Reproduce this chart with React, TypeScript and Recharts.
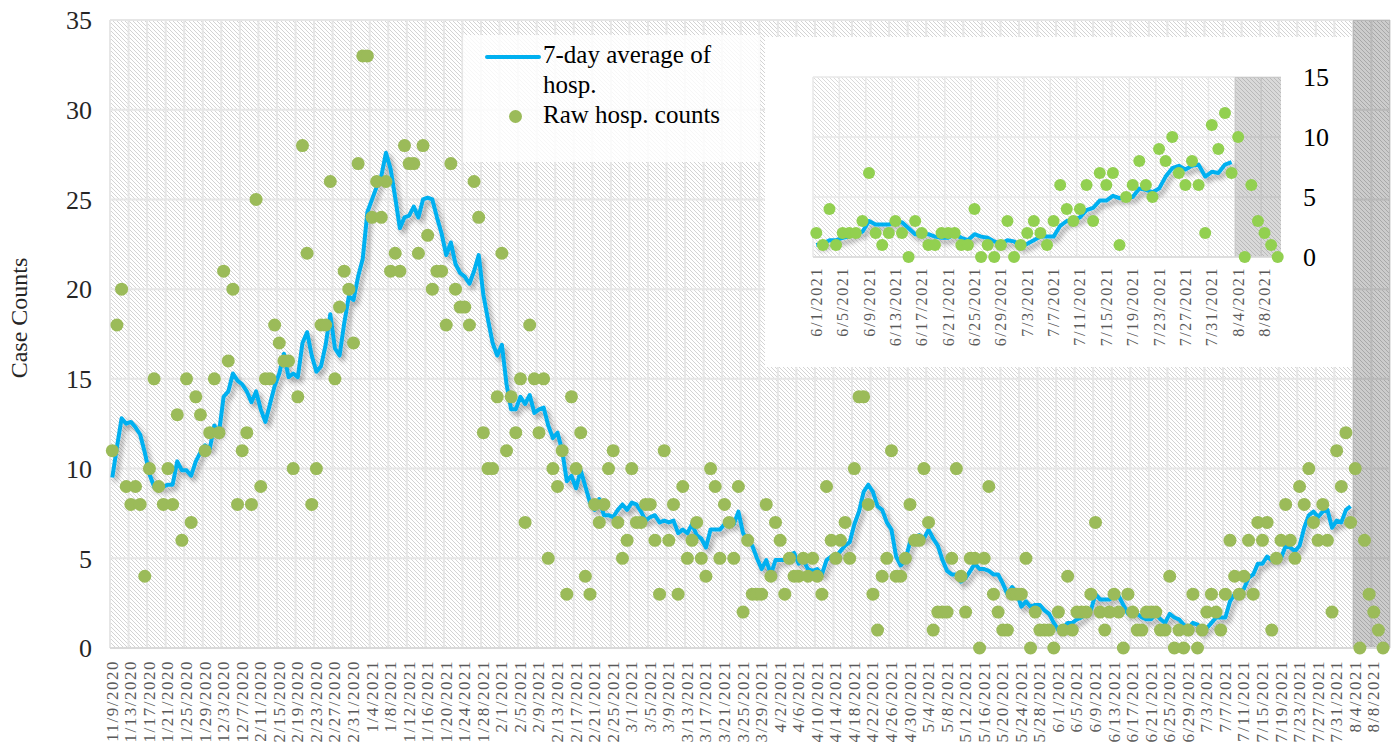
import React from 'react';
import {
  CartesianGrid,
  ComposedChart,
  Legend,
  Line,
  ReferenceArea,
  Scatter,
  XAxis,
  YAxis,
} from 'recharts';

const FONT = '"Liberation Serif", "Times New Roman", serif';
const LINE_BLUE = '#00B0F0';
const DOT_GREEN = '#9BBB59';
const INSET_GREEN = '#92D050';

// raw daily hospitalisation counts, 11/9/2020 .. 8/10/2021
const rawCounts = [
  11, 18, 20, 9, 8, 9, 8, 4, 10, 15,
  9, 8, 10, 8, 13, 6, 15, 7, 14, 13,
  11, 12, 15, 12, 21, 16, 20, 8, 11, 12,
  8, 25, 9, 15, 15, 18, 17, 16, 16, 10,
  14, 28, 22, 8, 10, 18, 18, 26, 15, 19,
  21, 20, 17, 27, 33, 33, 24, 26, 24, 26,
  21, 22, 21, 28, 27, 27, 22, 28, 23, 20,
  21, 21, 18, 27, 20, 19, 19, 18, 26, 24,
  12, 10, 10, 14, 22, 11, 14, 12, 15, 7,
  18, 15, 12, 15, 5, 10, 9, 11, 3, 14,
  10, 12, 4, 3, 8, 7, 8, 10, 11, 7,
  5, 6, 10, 7, 7, 8, 8, 6, 3, 11,
  6, 8, 3, 9, 5, 6, 7, 5, 4, 10,
  9, 5, 8, 7, 5, 9, 2, 6, 3, 3,
  3, 8, 4, 7, 6, 3, 5, 4, 4, 5,
  4, 5, 4, 3, 9, 6, 5, 6, 7, 5,
  10, 14, 14, 8, 3, 1, 4, 5, 11, 4,
  4, 5, 8, 6, 6, 10, 7, 1, 2, 2,
  2, 5, 10, 4, 2, 5, 5, 0, 5, 9,
  3, 2, 1, 1, 3, 3, 3, 5, 0, 2,
  1, 1, 1, 0, 2, 1, 4, 1, 2, 2,
  2, 3, 7, 2, 1, 2, 3, 2, 0, 3,
  2, 1, 1, 2, 2, 2, 1, 1, 4, 0,
  1, 0, 1, 3, 0, 1, 2, 3, 2, 1,
  3, 6, 4, 3, 4, 6, 3, 7, 6, 7,
  1, 5, 6, 8, 6, 5, 9, 8, 10, 7,
  6, 8, 6, 2, 11, 9, 12, 7, 10, 0,
  6, 3, 2, 1, 0,
];

// 7-day average as plotted, stops at 8/3/2021
const avgCounts = [
  9.5, 11.2, 12.8, 12.5, 12.6, 12.3, 11.9, 10.9, 9.7, 9.0,
  9.0, 9.0, 9.1, 9.1, 10.4, 9.9, 9.9, 9.6, 10.4, 10.9,
  11.3, 11.1, 12.4, 12.0, 14.0, 14.3, 15.3, 14.9, 14.7, 14.3,
  13.7, 14.3, 13.3, 12.6, 13.6, 14.6, 15.3, 16.4, 15.1, 15.3,
  15.1, 17.0, 17.6, 16.3, 15.4, 15.7, 16.9, 18.6, 16.7, 16.3,
  18.1, 19.6, 19.4, 20.7, 21.7, 24.3, 25.0, 25.7, 26.3, 27.6,
  26.7, 25.1, 23.4, 24.0, 24.1, 24.6, 24.0, 25.0, 25.1, 25.0,
  24.0, 23.1, 21.9, 22.6, 21.4, 20.9, 20.7, 20.3, 21.0, 21.9,
  19.7, 18.3, 17.0, 16.3, 16.9, 14.7, 13.3, 13.3, 14.0, 13.6,
  14.1, 13.1, 13.3, 13.4, 12.4, 11.7, 12.0, 11.0, 9.3, 9.6,
  8.9, 9.9, 9.0, 8.1, 7.7, 8.3, 7.4, 7.4, 7.3, 7.7,
  8.0, 7.7, 8.1, 8.0, 7.6, 7.1, 7.3, 7.4, 7.0, 7.1,
  7.0, 7.1, 6.4, 6.6, 6.4, 6.9, 6.3, 6.1, 5.6, 6.6,
  6.6, 6.6, 6.9, 6.9, 6.9, 7.6, 6.4, 6.0, 5.7, 5.0,
  4.4, 4.9, 4.1, 4.9, 4.9, 4.9, 5.1, 5.3, 4.7, 4.9,
  4.4, 4.3, 4.4, 4.1, 4.9, 5.1, 5.1, 5.4, 5.7, 5.9,
  6.9, 7.6, 8.7, 9.1, 8.7, 7.9, 7.7, 7.0, 6.6, 5.1,
  4.6, 4.9, 5.9, 6.1, 6.3, 6.1, 6.6, 6.1, 5.7, 4.9,
  4.3, 4.1, 4.1, 3.7, 3.9, 4.3, 4.7, 4.4, 4.4, 4.3,
  4.1, 4.1, 3.6, 3.0, 3.4, 3.1, 2.3, 2.6, 2.3, 2.4,
  2.4, 2.1, 1.9, 1.4, 1.0, 1.1, 1.4, 1.4, 1.6, 1.7,
  2.0, 2.1, 3.0, 2.7, 2.7, 2.7, 2.9, 2.9, 2.4, 1.9,
  1.9, 1.9, 1.7, 1.6, 1.6, 1.9, 1.6, 1.4, 1.9, 1.7,
  1.6, 1.3, 1.1, 1.4, 1.3, 0.9, 1.1, 1.4, 1.7, 1.7,
  1.7, 2.6, 3.0, 3.1, 3.3, 3.9, 4.1, 4.7, 4.7, 5.1,
  4.9, 5.0, 5.0, 5.7, 5.6, 5.4, 5.7, 6.7, 7.4, 7.6,
  7.3, 7.6, 7.7, 6.7, 7.1, 7.0, 7.7, 7.9,
];

const mainTickLabels = [
  '11/9/2020', '11/13/2020', '11/17/2020', '11/21/2020', '11/25/2020', '11/29/2020',
  '12/3/2020', '12/7/2020', '12/11/2020', '12/15/2020', '12/19/2020', '12/23/2020',
  '12/27/2020', '12/31/2020', '1/4/2021', '1/8/2021', '1/12/2021', '1/16/2021',
  '1/20/2021', '1/24/2021', '1/28/2021', '2/1/2021', '2/5/2021', '2/9/2021',
  '2/13/2021', '2/17/2021', '2/21/2021', '2/25/2021', '3/1/2021', '3/5/2021',
  '3/9/2021', '3/13/2021', '3/17/2021', '3/21/2021', '3/25/2021', '3/29/2021',
  '4/2/2021', '4/6/2021', '4/10/2021', '4/14/2021', '4/18/2021', '4/22/2021',
  '4/26/2021', '4/30/2021', '5/4/2021', '5/8/2021', '5/12/2021', '5/16/2021',
  '5/20/2021', '5/24/2021', '5/28/2021', '6/1/2021', '6/5/2021', '6/9/2021',
  '6/13/2021', '6/17/2021', '6/21/2021', '6/25/2021', '6/29/2021', '7/3/2021',
  '7/7/2021', '7/11/2021', '7/15/2021', '7/19/2021', '7/23/2021', '7/27/2021',
  '7/31/2021', '8/4/2021', '8/8/2021',
];

const insetTickLabels = [
  '6/1/2021', '6/5/2021', '6/9/2021', '6/13/2021', '6/17/2021', '6/21/2021',
  '6/25/2021', '6/29/2021', '7/3/2021', '7/7/2021', '7/11/2021', '7/15/2021',
  '7/19/2021', '7/23/2021', '7/27/2021', '7/31/2021', '8/4/2021', '8/8/2021',
];

const mainYTicks = [0, 5, 10, 15, 20, 25, 30, 35];
const insetYTicks = [0, 5, 10, 15];

const INSET_START = 204; // 6/1/2021
const SHADE_FROM = 267.5; // 8/4/2021 onward is shaded
const TICK_STEP = 4;

const mainRows = rawCounts.map((raw, day) => ({
  day,
  raw,
  avg: day < avgCounts.length ? avgCounts[day] : null,
}));
const insetRows = mainRows.slice(INSET_START).map((r, day) => ({ ...r, day }));

const MAIN_DOMAIN: [number, number] = [-0.5, mainRows.length + 0.5];
const INSET_DOMAIN: [number, number] = [-0.5, insetRows.length - 0.5];

const mainTicks = mainTickLabels.map((_, k) => k * TICK_STEP);
const insetTicks = insetTickLabels.map((_, k) => k * TICK_STEP);

const gridDays = (domain: [number, number]) => {
  const out: number[] = [];
  for (let d = domain[0]; d <= domain[1]; d += TICK_STEP) out.push(d);
  return out;
};

const gridGen = (days: number[], domain: [number, number]) => ({ xAxis, offset }: any) =>
  days.map((d) =>
    xAxis && typeof xAxis.scale === 'function'
      ? xAxis.scale(d)
      : offset.left + ((d - domain[0]) / (domain[1] - domain[0])) * offset.width
  );

const dateTick = (labels: string[], fontSize: number, spacing: number) => (props: any) => {
  const { x, y, payload } = props;
  const label = labels[Math.round(payload.value / TICK_STEP)];
  return (
    <text
      transform={`translate(${x},${y}) rotate(-90)`}
      textAnchor="end"
      dominantBaseline="central"
      fill="#595959"
      fontSize={fontSize}
      letterSpacing={spacing}
      fontFamily={FONT}
    >
      {label}
    </text>
  );
};

const dot = (r: number, fill: string) => (props: any) =>
  <circle cx={props.cx} cy={props.cy} r={r} fill={fill} />;

function MainLegend({ payload }: any) {
  const items = payload || [];
  return (
    <div
      style={{
        width: 297,
        height: 127,
        position: 'relative',
        background: 'rgba(255,255,255,0.82)',
        fontFamily: FONT,
        fontSize: 25,
        lineHeight: '30px',
        color: '#000',
      }}
    >
      {items.map((item: any, k: number) => (
        <div key={item.value} style={{ position: 'absolute', left: 0, top: k === 0 ? 5 : 65, display: 'flex' }}>
          <div style={{ width: 80, height: 30, position: 'relative' }}>
            {item.type === 'line' ? (
              <div style={{ position: 'absolute', left: 22, top: 15, width: 56, height: 4, borderRadius: 2, background: item.color }} />
            ) : (
              <div style={{ position: 'absolute', left: 46, top: 10, width: 13, height: 13, borderRadius: '50%', background: item.color }} />
            )}
          </div>
          <div style={{ width: 200 }}>{item.value}</div>
        </div>
      ))}
    </div>
  );
}

export default function App() {
  return (
    <div style={{ position: 'absolute', left: 0, top: 0, width: 1400, height: 742, overflow: 'hidden', background: '#fff' }}>
      <svg width={0} height={0} style={{ position: 'absolute' }}>
        <defs>
          <pattern id="hatchMain" width={4} height={4} patternUnits="userSpaceOnUse">
            <rect width={4} height={4} fill="#fff" />
            <path d="M-1,-1 L5,5 M-1,3 L1,5 M3,-1 L5,1" stroke="#d3d3d3" strokeWidth={1} />
          </pattern>
          <pattern id="hatchInset" width={4} height={4} patternUnits="userSpaceOnUse">
            <rect width={4} height={4} fill="#fff" />
            <path d="M-1,-1 L5,5 M-1,3 L1,5 M3,-1 L5,1" stroke="#dadada" strokeWidth={1} />
          </pattern>
          <filter id="lineShadow" x="-3%" y="-10%" width="106%" height="130%">
            <feDropShadow dx={3} dy={4} stdDeviation={2.5} floodColor="#000" floodOpacity={0.35} />
          </filter>
        </defs>
      </svg>

      <ComposedChart width={1400} height={800} data={mainRows} margin={{ top: 20, right: 10, bottom: 0, left: 0 }}>
        <CartesianGrid
          fill="url(#hatchMain)"
          fillOpacity={1}
          stroke="#e6e6e6"
          strokeWidth={2}
          verticalCoordinatesGenerator={gridGen(gridDays(MAIN_DOMAIN), MAIN_DOMAIN)}
        />
        <XAxis
          type="number"
          dataKey="day"
          domain={MAIN_DOMAIN}
          ticks={mainTicks}
          interval={0}
          height={152}
          tickSize={0}
          tickMargin={12}
          tickLine={false}
          axisLine={{ stroke: '#d9d9d9', strokeWidth: 2 }}
          tick={dateTick(mainTickLabels, 17, 1.5)}
        />
        <YAxis
          type="number"
          domain={[0, 35]}
          ticks={mainYTicks}
          width={110}
          tickSize={0}
          tickMargin={18}
          tickLine={false}
          axisLine={false}
          tick={{ fontSize: 26, fill: '#262626', fontFamily: FONT }}
          label={{
            value: 'Case Counts',
            content: () => (
              <text
                x={19}
                y={318}
                transform="rotate(-90 19 318)"
                textAnchor="middle"
                dominantBaseline="central"
                fontSize={24}
                fontFamily={FONT}
                fill="#262626"
              >
                Case Counts
              </text>
            ),
          }}
        />
        <ReferenceArea x1={SHADE_FROM} x2={MAIN_DOMAIN[1]} fill="#000" fillOpacity={0.2} stroke="none" />
        <Line
          type="linear"
          dataKey="avg"
          name="7-day average of hosp."
          stroke={LINE_BLUE}
          strokeWidth={4}
          strokeLinejoin="round"
          dot={false}
          activeDot={false}
          filter="url(#lineShadow)"
          isAnimationActive={false}
        />
        <Scatter
          dataKey="raw"
          name="Raw hosp. counts"
          fill={DOT_GREEN}
          shape={dot(6.5, DOT_GREEN)}
          isAnimationActive={false}
        />
        <Legend
          layout="horizontal"
          verticalAlign="middle"
          align="center"
          wrapperStyle={{ position: 'absolute', left: 463, top: 35, width: 297, height: 127 }}
          content={MainLegend}
        />
      </ComposedChart>

      <div style={{ position: 'absolute', left: 765, top: 37, width: 587, height: 330, background: '#fff' }}>
        <ComposedChart width={587} height={330} data={insetRows} margin={{ top: 40, right: 0, bottom: 0, left: 48 }}>
          <CartesianGrid
            fill="url(#hatchInset)"
            fillOpacity={1}
            stroke="#e8e8e8"
            strokeWidth={1.5}
            verticalCoordinatesGenerator={gridGen(gridDays(INSET_DOMAIN), INSET_DOMAIN)}
          />
          <XAxis
            type="number"
            dataKey="day"
            domain={INSET_DOMAIN}
            ticks={insetTicks}
            interval={0}
            height={110}
            tickSize={0}
            tickMargin={10}
            tickLine={false}
            axisLine={{ stroke: '#d9d9d9', strokeWidth: 1.5 }}
            tick={dateTick(insetTickLabels, 16, 1.6)}
          />
          <YAxis
            orientation="right"
            type="number"
            domain={[0, 15]}
            ticks={insetYTicks}
            width={71}
            tickSize={0}
            tickMargin={22}
            tickLine={false}
            axisLine={false}
            tick={{ fontSize: 26, fill: '#000', fontFamily: FONT }}
          />
          <ReferenceArea x1={SHADE_FROM - INSET_START} x2={INSET_DOMAIN[1]} fill="#000" fillOpacity={0.15} stroke="none" />
          <Line
            type="linear"
            dataKey="avg"
            stroke={LINE_BLUE}
            strokeWidth={4}
            strokeLinejoin="round"
            dot={false}
            activeDot={false}
            filter="url(#lineShadow)"
            isAnimationActive={false}
          />
          <Scatter dataKey="raw" fill={INSET_GREEN} shape={dot(6, INSET_GREEN)} isAnimationActive={false} />
        </ComposedChart>
      </div>
    </div>
  );
}
